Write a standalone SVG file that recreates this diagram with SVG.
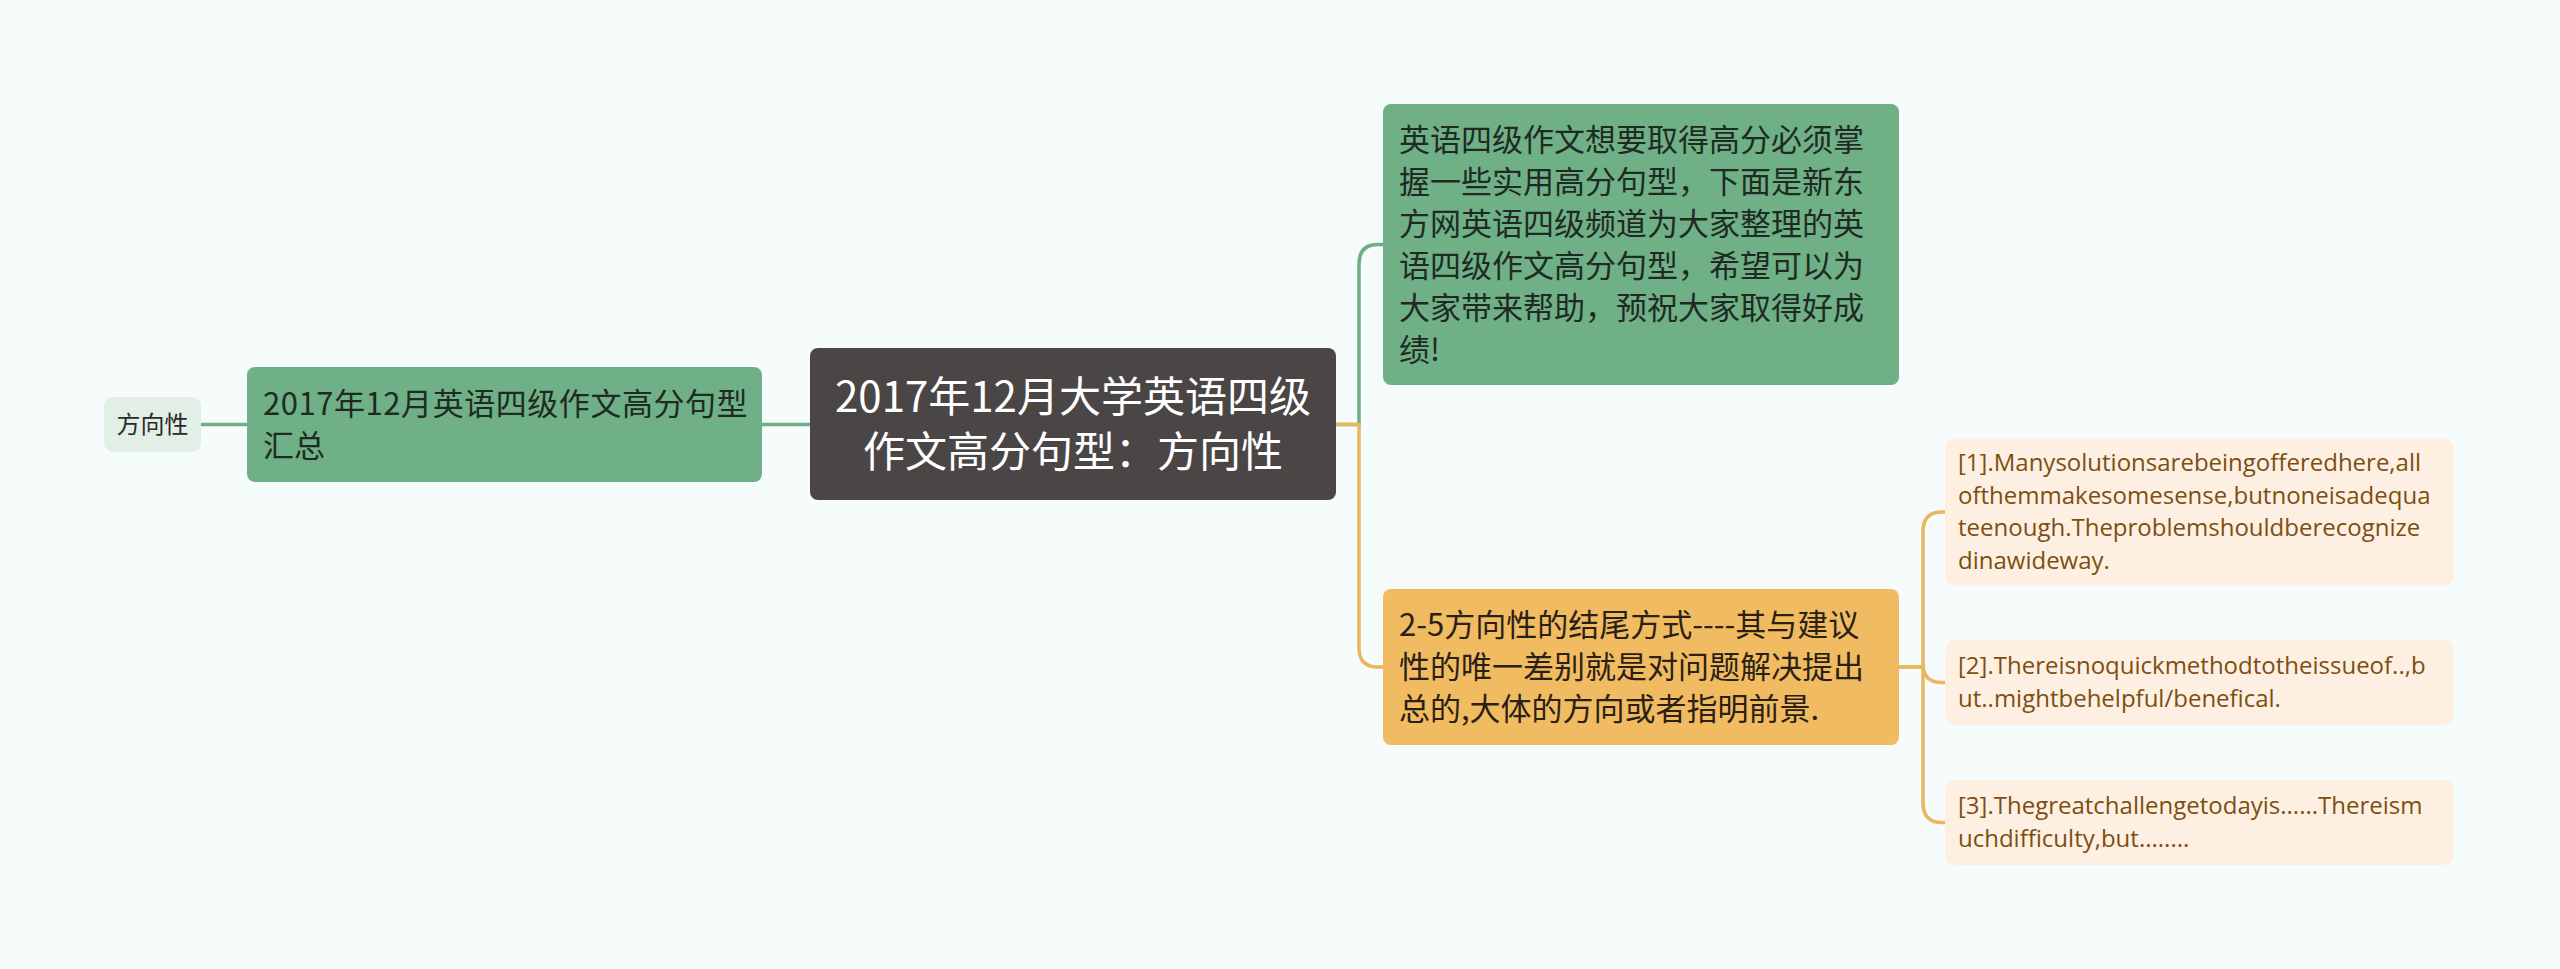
<svg xmlns="http://www.w3.org/2000/svg" width="2560" height="969" viewBox="0 0 2560 969">
<style>
.cjk{font-family:"Noto Sans CJK SC","Noto Sans",sans-serif;}
.lat{font-family:"Open Sans","Noto Sans CJK SC",sans-serif;}
.g{fill:#6fb086;}
.o{fill:#f1bb62;}
.lf{fill:#fdf0e2;}
.tg{fill:#1f2a23;font-size:31px;}
.to{fill:#2a2114;font-size:31px;}
.tl{fill:#7d4e10;font-size:24px;}
.cg{fill:none;stroke:#6fae86;stroke-width:3.5;}
.co{fill:none;stroke:#eab660;stroke-width:3.5;}
</style>
<rect width="2560" height="969" fill="#f6fbfb"/>
<g id="connectors">
<path class="cg" d="M201 424.5 H247"/>
<path class="cg" d="M762 424.5 H810"/>
<path class="cg" d="M1336 424.5 H1359 V264 Q1359 244.5 1378 244.5 H1383"/>
<path class="co" d="M1336 424.5 H1359 V648 Q1359 667 1378 667 H1383"/>
<path class="co" d="M1899 667 H1923 V531 Q1923 512 1942 512 H1945"/>
<path class="co" d="M1899 667 H1923 V664 Q1923 682.5 1942 682.5 H1945"/>
<path class="co" d="M1923 667 V803 Q1923 822.5 1942 822.5 H1945"/>
</g>
<g id="node-fangxiangxing">
<rect x="104" y="397" width="97" height="55" rx="9" fill="#e2efe7"/>
<text class="cjk" x="152.5" y="433" font-size="24" fill="#2a2a2a" text-anchor="middle">方向性</text>
</g>
<g id="node-huizong">
<rect class="g" x="247" y="367" width="515" height="115" rx="8"/>
<text class="cjk tg"><tspan x="263" y="414.5" letter-spacing="0.55">2017年12月英语四级作文高分句型</tspan><tspan x="263" y="456.5">汇总</tspan></text>
</g>
<g id="node-root">
<rect x="810" y="348" width="526" height="152" rx="8" fill="#4b4646"/>
<text class="cjk" font-size="42" fill="#ffffff" text-anchor="middle"><tspan x="1073" y="412">2017年12月大学英语四级</tspan><tspan x="1073" y="467">作文高分句型：方向性</tspan></text>
</g>
<g id="node-intro">
<rect class="g" x="1383" y="104" width="516" height="281" rx="8"/>
<text class="cjk tg"><tspan x="1399" y="150.5">英语四级作文想要取得高分必须掌</tspan><tspan x="1399" y="192.5">握一些实用高分句型，下面是新东</tspan><tspan x="1399" y="234.5">方网英语四级频道为大家整理的英</tspan><tspan x="1399" y="276.5">语四级作文高分句型，希望可以为</tspan><tspan x="1399" y="318.5">大家带来帮助，预祝大家取得好成</tspan><tspan x="1399" y="360.5">绩!</tspan></text>
</g>
<g id="node-ending">
<rect class="o" x="1383" y="589" width="516" height="156" rx="8"/>
<text class="cjk to"><tspan x="1399" y="636">2-5方向性的结尾方式----其与建议</tspan><tspan x="1399" y="678">性的唯一差别就是对问题解决提出</tspan><tspan x="1399" y="720">总的,大体的方向或者指明前景.</tspan></text>
</g>
<g id="leaf-1">
<rect class="lf" x="1945" y="438" width="509" height="148" rx="10"/>
<text class="lat tl"><tspan x="1958" y="471">[1].Manysolutionsarebeingofferedhere,all</tspan><tspan x="1958" y="503.5">ofthemmakesomesense,butnoneisadequa</tspan><tspan x="1958" y="536">teenough.Theproblemshouldberecognize</tspan><tspan x="1958" y="568.5">dinawideway.</tspan></text>
</g>
<g id="leaf-2">
<rect class="lf" x="1945" y="640" width="509" height="85" rx="10"/>
<text class="lat tl"><tspan x="1958" y="674">[2].Thereisnoquickmethodtotheissueof..,b</tspan><tspan x="1958" y="706.5">ut..mightbehelpful/benefical.</tspan></text>
</g>
<g id="leaf-3">
<rect class="lf" x="1945" y="780" width="509" height="85" rx="10"/>
<text class="lat tl"><tspan x="1958" y="814">[3].Thegreatchallengetodayis......Thereism</tspan><tspan x="1958" y="846.5">uchdifficulty,but........</tspan></text>
</g>
</svg>
